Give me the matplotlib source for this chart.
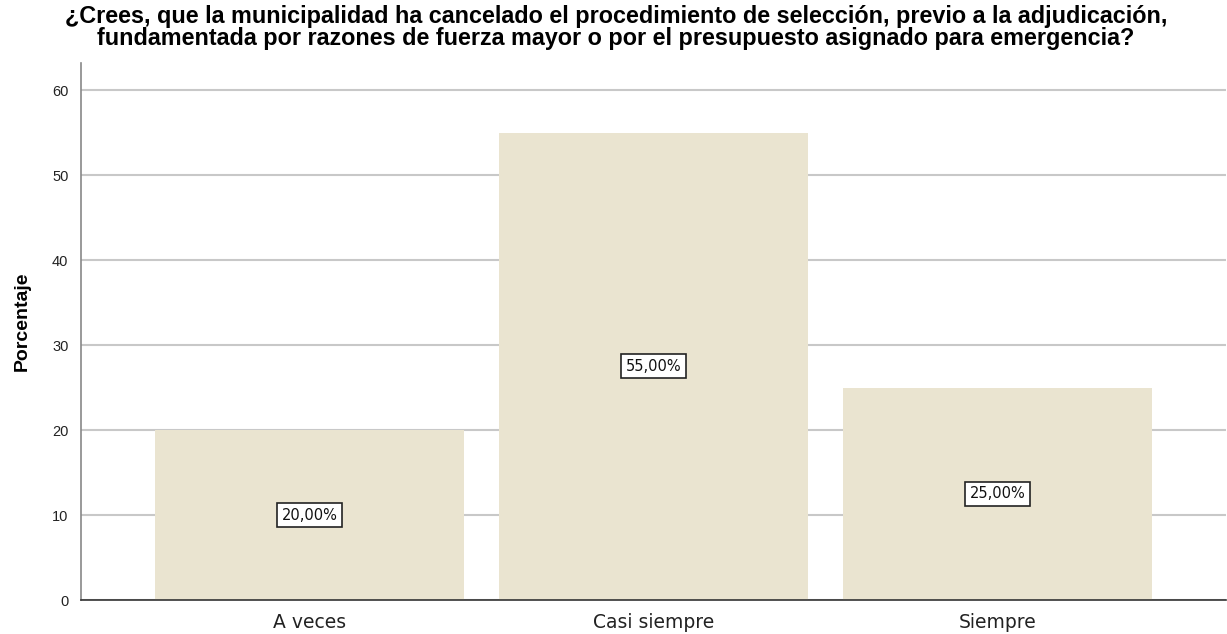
import numpy as np
import matplotlib
matplotlib.use("Agg")
import matplotlib.pyplot as plt

categories = ["A veces", "Casi siempre", "Siempre"]
porcentajes = [20.0, 55.0, 25.0]
yticks = [0, 10, 20, 30, 40, 50, 60]

titulo = ("¿Crees, que la municipalidad ha cancelado el procedimiento de selección, previo a la adjudicación,\n"
          "fundamentada por razones de fuerza mayor o por el presupuesto asignado para emergencia?")

plt.rcParams['font.family'] = ['Liberation Sans', 'DejaVu Sans']

fig = plt.figure(figsize=(12.27, 6.34), dpi=100)
ax = fig.add_axes([0.066, 0.0536, 0.933, 0.847])

x = np.arange(len(categories))
ax.bar(x, porcentajes, width=0.9, color='#EAE4D0', zorder=2)

for xi, v in zip(x, porcentajes):
    ax.text(xi, v / 2, f"{v:.2f}%".replace('.', ','), ha='center', va='center', fontsize=10.5,
            color='#111111', zorder=3, family=['DejaVu Sans'],
            bbox=dict(boxstyle='square,pad=0.3', facecolor='white', edgecolor='#222222', linewidth=1.2))

ax.set_xlim(-0.664, 2.664)
ax.set_ylim(0, 63.2)
ax.set_yticks(yticks)
ax.set_xticks(x)
ax.set_xticklabels(categories, fontsize=13.5, color='#222222', family=['DejaVu Sans'])
ax.tick_params(axis='y', labelsize=10.5, length=0, pad=9, colors='#222222')
ax.tick_params(axis='x', length=0, pad=9)
ax.yaxis.grid(True, color='#c8c8c8', linewidth=1.5, zorder=1)
ax.set_axisbelow(True)

for s in ['top', 'right']:
    ax.spines[s].set_visible(False)
ax.spines['left'].set_color('#888888')
ax.spines['left'].set_linewidth(1.2)
ax.spines['bottom'].set_color('#333333')
ax.spines['bottom'].set_linewidth(1.2)

ax.set_ylabel('Porcentaje', fontsize=14, fontweight='bold')
ax.yaxis.set_label_coords(-0.044, 0.52)
fig.text(0.502, 0.992, titulo, fontsize=16.8, fontweight='bold', ha='center', va='top',
         linespacing=0.95, multialignment='center')

fig.savefig('out.png', dpi=100)
